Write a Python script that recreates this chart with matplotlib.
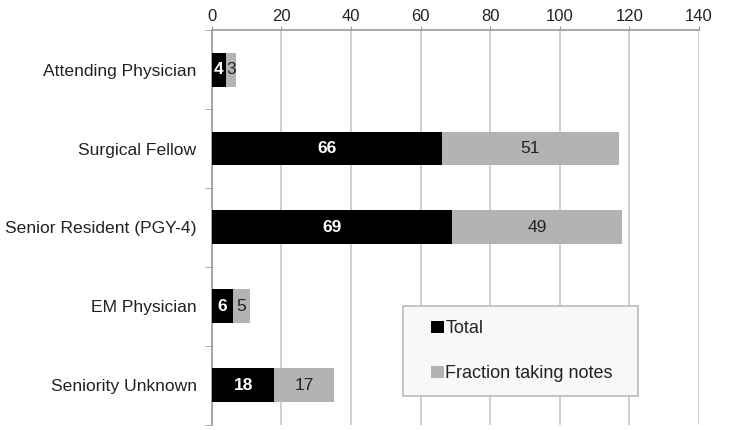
import numpy as np
import matplotlib.pyplot as plt
from matplotlib.patches import Rectangle
from matplotlib.legend_handler import HandlerPatch
from matplotlib.container import BarContainer

plt.rcParams['font.family'] = ['Liberation Sans', 'DejaVu Sans']

categories = ['Attending Physician', 'Surgical Fellow', 'Senior Resident (PGY-4)',
              'EM Physician', 'Seniority Unknown']
total = [4, 66, 69, 6, 18]
taking_notes = [3, 51, 49, 5, 17]

fig = plt.figure(figsize=(7.46, 4.30), dpi=100)
ax = fig.add_axes([0.284, 0.012, 0.653, 0.918])

y = np.arange(len(categories))
h = 0.43
ax.barh(y, total, height=h, color='black', label='Total', zorder=3)
ax.barh(y, taking_notes, left=total, height=h, color='#b3b3b3',
        label='Fraction taking notes', zorder=3)

for yi, t, n in zip(y, total, taking_notes):
    ax.text(t / 2, yi, str(t), ha='center', va='center', color='white',
            fontsize=12.5, fontweight='bold', zorder=4)
    ax.text(t + n / 2, yi, str(n), ha='center', va='center', color='#222222',
            fontsize=12.5, zorder=4)

ax.set_xlim(0, 140)
ax.set_xticks(np.arange(0, 141, 20))
ax.set_ylim(len(categories) - 0.5, -0.5)
ax.set_yticks(y)
ax.set_yticklabels(categories)
ax.set_yticks(np.arange(-0.5, len(categories), 1), minor=True)

ax.xaxis.tick_top()
ax.tick_params(axis='x', which='major', length=3, color='#999999', labelsize=12,
               labelcolor='#222222', pad=1.5)
ax.tick_params(axis='y', which='major', length=0, labelsize=12.6,
               labelcolor='#222222', pad=11)
ax.tick_params(axis='y', which='minor', length=5, color='#999999')

ax.grid(axis='x', color='#c8c8c8', linewidth=1.2, zorder=0)
for side in ['right', 'bottom']:
    ax.spines[side].set_visible(False)
for side in ['top', 'left']:
    ax.spines[side].set_color('#999999')
    ax.spines[side].set_linewidth(1.2)


# small square swatch pushed to the right end of the handle box
def square_handle(legend, orig_handle, xdescent, ydescent, width, height, fontsize):
    s = height * 0.95
    return Rectangle((width - s - xdescent, -ydescent), s, s)


def copy_first(legend_handle, orig_handle):
    legend_handle.update_from(orig_handle.patches[0])


leg = ax.legend(loc='lower left', bbox_to_anchor=(0.392, 0.073, 0.483, 0.23),
                mode='expand', fontsize=13, handlelength=1.5, handleheight=0.72,
                handletextpad=0.1, labelspacing=1.58, borderpad=0.76,
                fancybox=False, framealpha=1, borderaxespad=0,
                handler_map={BarContainer: HandlerPatch(patch_func=square_handle,
                                                        update_func=copy_first)})
leg.get_frame().set_facecolor('#f8f8f8')
leg.get_frame().set_edgecolor('#bbbbbb')
leg.get_frame().set_linewidth(1.2)
for t in leg.get_texts():
    t.set_color('#222222')

plt.savefig('out.png', dpi=100)
plt.close()
